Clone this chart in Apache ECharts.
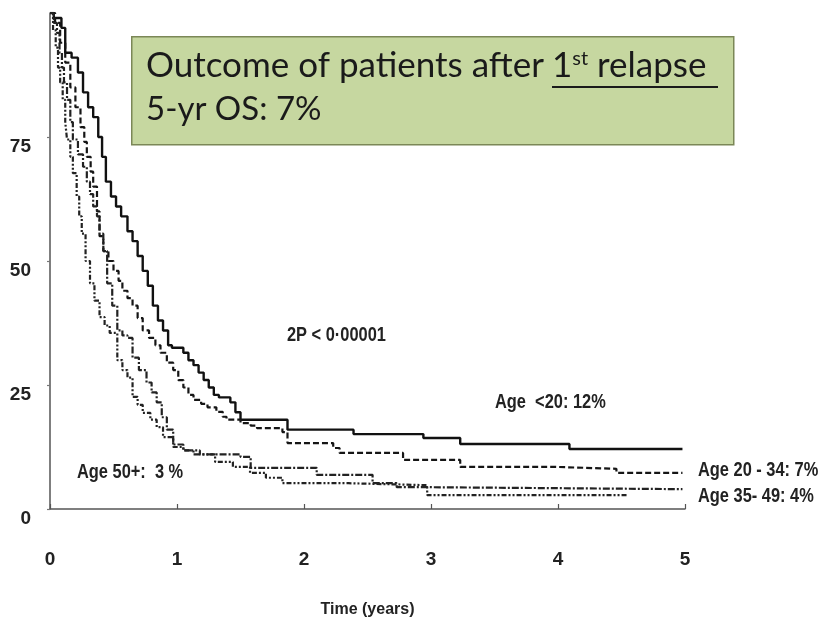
<!DOCTYPE html>
<html>
<head>
<meta charset="utf-8">
<script src="https://cdn.jsdelivr.net/npm/echarts@6/dist/echarts.min.js"></script>
<style>html,body{margin:0;padding:0;background:#fff}#c{width:823px;height:626px}</style>
</head>
<body>
<div id="c"></div>
<script>
// ---- data (time in years, overall survival %) ----
const xTicks = [0, 1, 2, 3, 4, 5];
const yTicks = [0, 25, 50, 75];
const ageUnder20 = [[0,100],[0.03,99],[0.09,97],[0.12,92],[0.17,91],[0.22,88],[0.26,84],[0.30,81],[0.34,79],[0.38,75],[0.41,71],[0.44,66],[0.48,63],[0.52,61],[0.56,59],[0.61,56],[0.65,54],[0.69,51],[0.73,48],[0.77,45],[0.81,41],[0.85,38],[0.89,36],[0.93,33],[0.96,32.5],[1.05,31.5],[1.09,30],[1.13,29],[1.17,27.5],[1.21,26],[1.25,24.5],[1.29,23],[1.33,22.5],[1.42,21.5],[1.46,19.5],[1.50,18],[1.87,16],[2.39,15.1],[2.94,14.3],[3.23,13.1],[4.09,12.1],[4.98,12.1]];
const age20to34 = [[0,100],[0.04,98],[0.08,94],[0.12,90],[0.16,85],[0.20,81],[0.24,77],[0.27,74],[0.29,71],[0.32,68],[0.34,65],[0.37,60],[0.39,55],[0.42,52],[0.46,50],[0.50,48],[0.54,46],[0.57,44],[0.61,42.5],[0.65,41],[0.69,38.5],[0.73,36],[0.78,34.5],[0.83,33],[0.87,31.5],[0.92,29.5],[0.97,28],[1.01,26],[1.05,24.5],[1.09,23],[1.13,22],[1.19,21.2],[1.24,20.5],[1.31,19.6],[1.36,18.6],[1.39,18],[1.50,17.3],[1.58,16.8],[1.63,16.3],[1.83,15.5],[1.87,13.3],[2.23,12.3],[2.28,11.3],[2.78,9.9],[3.23,8.5],[3.97,8.1],[4.46,7.3],[4.98,7.3]];
const age35to49 = [[0,100],[0.03,98],[0.055,96],[0.075,92],[0.094,89],[0.11,86],[0.134,82.5],[0.16,78],[0.18,74.5],[0.22,71.5],[0.26,69],[0.29,66],[0.315,63.5],[0.34,61],[0.37,59],[0.39,55.5],[0.42,52],[0.45,45.5],[0.49,41],[0.53,36],[0.57,35],[0.61,34.5],[0.65,30.5],[0.70,28],[0.76,25.5],[0.80,23.5],[0.84,21.5],[0.88,18.5],[0.92,16],[0.97,13],[1.05,11.8],[1.13,11],[1.5,10.5],[1.58,8.3],[2.10,6.9],[2.54,5.2],[2.73,4.4],[2.97,4.0],[4.98,4.0]];
const age50plus = [[0,100],[0.024,96.5],[0.045,93],[0.063,89],[0.08,86],[0.10,82.5],[0.12,78],[0.134,74.5],[0.16,71],[0.18,67.7],[0.21,63],[0.23,59],[0.25,55.5],[0.28,50],[0.315,45.5],[0.35,42],[0.39,38.7],[0.43,37],[0.47,35.5],[0.53,30],[0.57,28],[0.61,26.5],[0.65,22.6],[0.69,21],[0.73,19.4],[0.79,18],[0.84,16.5],[0.89,14.5],[0.97,12.5],[1.05,11.8],[1.18,11],[1.3,9.5],[1.44,8.5],[1.575,7.3],[1.7,6.3],[1.83,5.2],[2.35,4.8],[2.97,2.8],[4.54,2.8]];
const seriesNames = ['Age <20', 'Age 20 - 34', 'Age 35- 49', 'Age 50+'];

const AX = '"Liberation Sans",Arial,sans-serif';
const TF = 'Lato, "Open Sans", sans-serif';
const chart = echarts.init(document.getElementById('c'), null, {renderer: 'canvas'});

function mk(name, data, type, width, color) {
  return {
    name: name, type: 'line', step: 'end', data: data, symbol: 'none',
    lineStyle: {color: color, width: width, type: type},
    animation: false, z: 3
  };
}
function narrow(text, x, y, size) {
  return {type: 'text', x: x, y: y, scaleX: 0.82, z: 11,
    style: {text: text, font: 'bold ' + size + 'px ' + AX, fill: '#222',
      align: 'left', verticalAlign: 'middle', textAlign: 'left', textVerticalAlign: 'middle'}};
}

const labelStyle = {fontFamily: AX, fontWeight: 'bold', fontSize: 19, color: '#222'};

chart.setOption({
  animation: false,
  backgroundColor: '#fff',
  grid: {left: 50, right: 138, top: 13, bottom: 117, containLabel: false},
  xAxis: {
    type: 'value', min: 0, max: 5, interval: 1,
    axisLine: {show: true, lineStyle: {color: '#555', width: 1.5}},
    axisTick: {show: true, inside: true, length: 5, lineStyle: {color: '#555', width: 1.2}},
    axisLabel: Object.assign({margin: 41, customValues: xTicks}, labelStyle),
    splitLine: {show: false},
    name: 'Time (years)', nameLocation: 'middle', nameGap: 93,
    nameTextStyle: {fontFamily: AX, fontWeight: 'bold', fontSize: 16, color: '#222'}
  },
  yAxis: {
    type: 'value', min: 0, max: 100, interval: 25,
    axisLine: {show: true, lineStyle: {color: '#555', width: 1.5}},
    axisTick: {show: true, length: 3, customValues: yTicks, lineStyle: {color: '#777', width: 1.2}},
    axisLabel: Object.assign({margin: 19, customValues: yTicks, verticalAlign: 'top',
      formatter: v => (v >= 100 ? '' : String(v))}, labelStyle),
    splitLine: {show: false}
  },
  series: [
    mk(seriesNames[0], ageUnder20, 'solid', 2.4, '#111'),
    mk(seriesNames[1], age20to34, [6, 3], 2.2, '#151515'),
    mk(seriesNames[2], age35to49, [7, 2, 2, 2], 2.2, '#222'),
    mk(seriesNames[3], age50plus, [5, 2, 2, 2, 2, 2], 2.2, '#222')
  ],
  graphic: [
    {type: 'rect', left: 131, top: 36, z: 10,
      shape: {width: 602, height: 108},
      style: {fill: '#c6d7a0', stroke: '#7b8757', lineWidth: 1.5}},
    {type: 'text', x: 146, y: 66, z: 11,
      style: {text: 'Outcome of patients after', font: '35px ' + TF, fill: '#1a1a1a',
        align: 'left', verticalAlign: 'middle', textAlign: 'left', textVerticalAlign: 'middle'}},
    {type: 'text', x: 552, y: 66, z: 11,
      style: {text: '{a|1}{s|st}{a| relapse}',
        align: 'left', verticalAlign: 'middle', textAlign: 'left', textVerticalAlign: 'middle',
        rich: {
          a: {fontFamily: TF, fontSize: 35, fill: '#1a1a1a', color: '#1a1a1a', verticalAlign: 'bottom'},
          s: {fontFamily: TF, fontSize: 20, fill: '#1a1a1a', color: '#1a1a1a', verticalAlign: 'top', padding: [0,0,14,0]}
        }}},
    {type: 'line', z: 11, shape: {x1: 552, y1: 87, x2: 718, y2: 87}, style: {stroke: '#1a1a1a', lineWidth: 2}},
    {type: 'text', x: 146, y: 109, z: 11,
      style: {text: '5-yr OS: 7%', font: '33px ' + TF, fill: '#1a1a1a',
        align: 'left', verticalAlign: 'middle', textAlign: 'left', textVerticalAlign: 'middle'}},
    narrow('2P < 0·00001', 287, 335, 20),
    narrow('Age  <20: 12%', 495, 402, 20),
    narrow('Age 20 - 34: 7%', 698, 470, 20),
    narrow('Age 35- 49: 4%', 698, 496, 20),
    narrow('Age 50+:  3 %', 77, 472, 20)
  ]
});
</script>
</body>
</html>
